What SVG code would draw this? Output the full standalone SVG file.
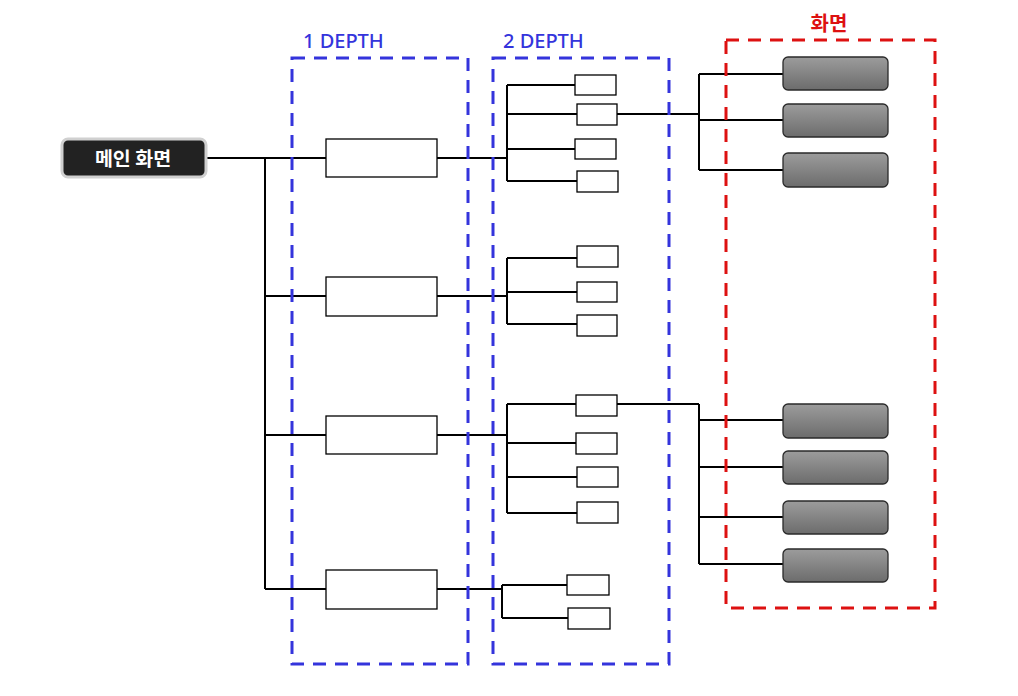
<svg xmlns="http://www.w3.org/2000/svg" width="1018" height="696" viewBox="0 0 1018 696">
<style>
.conn{fill:none;stroke:#000;stroke-width:2}
.d1{fill:#fff;stroke:#000;stroke-width:1.3}
.d2{fill:#fff;stroke:#000;stroke-width:1.3}
.scr{fill:url(#g);stroke:#2a2a2a;stroke-width:1.3}
.blue{fill:none;stroke:#3434dc;stroke-width:3;stroke-dasharray:13 9}
.red{fill:none;stroke:#dd1111;stroke-width:3;stroke-dasharray:13 9}
.lblb{font-family:"Noto Sans","Noto Sans CJK KR",sans-serif;font-size:20px;font-weight:500;fill:#3434dc}
.lblr{font-family:"Noto Sans CJK KR","Noto Sans",sans-serif;font-size:20px;font-weight:bold;fill:#dd1111}
</style>
<defs>
<linearGradient id="g" x1="0" y1="0" x2="0" y2="1">
<stop offset="0" stop-color="#9c9c9c"/>
<stop offset="1" stop-color="#6c6c6c"/>
</linearGradient>
</defs>
<rect width="1018" height="696" fill="#fff"/>
<g id="connectors">
<path class="conn" d="M206 158H326M265 158V589M265 296H326M265 435H326M265 589H326"/>
<path class="conn" d="M437 158H507M507 85V181M507 85H575M507 114H577M507 149H575M507 181H577"/>
<path class="conn" d="M617 114H699M699 74V170M699 74H783M699 120H783M699 170H783"/>
<path class="conn" d="M437 296H507M507 258V324M507 258H577M507 292H577M507 324H577"/>
<path class="conn" d="M437 435H507M507 404V513M507 404H576M507 443H576M507 477H577M507 513H577"/>
<path class="conn" d="M617 404H699M699 404V564M699 420H783M699 467H783M699 517H783M699 564H783"/>
<path class="conn" d="M437 589H502M502 585V618M502 585H567M502 618H568"/>
</g>
<g id="frame-1depth">
<rect class="blue" x="292" y="58" width="176" height="606"/>
<text class="lblb" x="303" y="48">1 DEPTH</text>
</g>
<g id="frame-2depth">
<rect class="blue" x="493" y="58" width="176" height="606"/>
<text class="lblb" x="503" y="48">2 DEPTH</text>
</g>
<g id="frame-screen">
<rect class="red" x="726" y="40" width="209" height="568"/>
<text class="lblr" x="829" y="31" text-anchor="middle">화면</text>
</g>
<g id="main">
<rect x="62" y="139" width="144" height="38" rx="6" fill="#222" stroke="#d0d0d0" stroke-width="3"/>
<text x="133" y="165.500" text-anchor="middle" font-family="'Noto Sans CJK KR',sans-serif" font-size="19.500" font-weight="bold" fill="#fff">메인 화면</text>
</g>
<g id="depth1">
<rect class="d1" x="326" y="139" width="111" height="38"/>
<rect class="d1" x="326" y="277" width="111" height="39"/>
<rect class="d1" x="326" y="416" width="111" height="38"/>
<rect class="d1" x="326" y="570" width="111" height="39"/>
</g>
<g id="depth2-a">
<rect class="d2" x="575" y="75" width="41" height="20"/>
<rect class="d2" x="577" y="104" width="40" height="21"/>
<rect class="d2" x="575" y="139" width="41" height="20"/>
<rect class="d2" x="577" y="171" width="41" height="21"/>
</g>
<g id="depth2-b">
<rect class="d2" x="577" y="246" width="41" height="21"/>
<rect class="d2" x="577" y="282" width="40" height="20"/>
<rect class="d2" x="577" y="315" width="40" height="21"/>
</g>
<g id="depth2-c">
<rect class="d2" x="576" y="395" width="41" height="21"/>
<rect class="d2" x="576" y="433" width="41" height="21"/>
<rect class="d2" x="577" y="467" width="41" height="20"/>
<rect class="d2" x="577" y="502" width="41" height="21"/>
</g>
<g id="depth2-d">
<rect class="d2" x="567" y="575" width="42" height="20"/>
<rect class="d2" x="568" y="608" width="42" height="21"/>
</g>
<g id="screens-a">
<rect class="scr" x="783" y="57" width="105" height="33" rx="5"/>
<rect class="scr" x="783" y="104" width="105" height="33" rx="5"/>
<rect class="scr" x="783" y="153" width="105" height="34" rx="5"/>
</g>
<g id="screens-b">
<rect class="scr" x="783" y="404" width="105" height="34" rx="5"/>
<rect class="scr" x="783" y="451" width="105" height="33" rx="5"/>
<rect class="scr" x="783" y="501" width="105" height="33" rx="5"/>
<rect class="scr" x="783" y="549" width="105" height="33" rx="5"/>
</g>
</svg>
